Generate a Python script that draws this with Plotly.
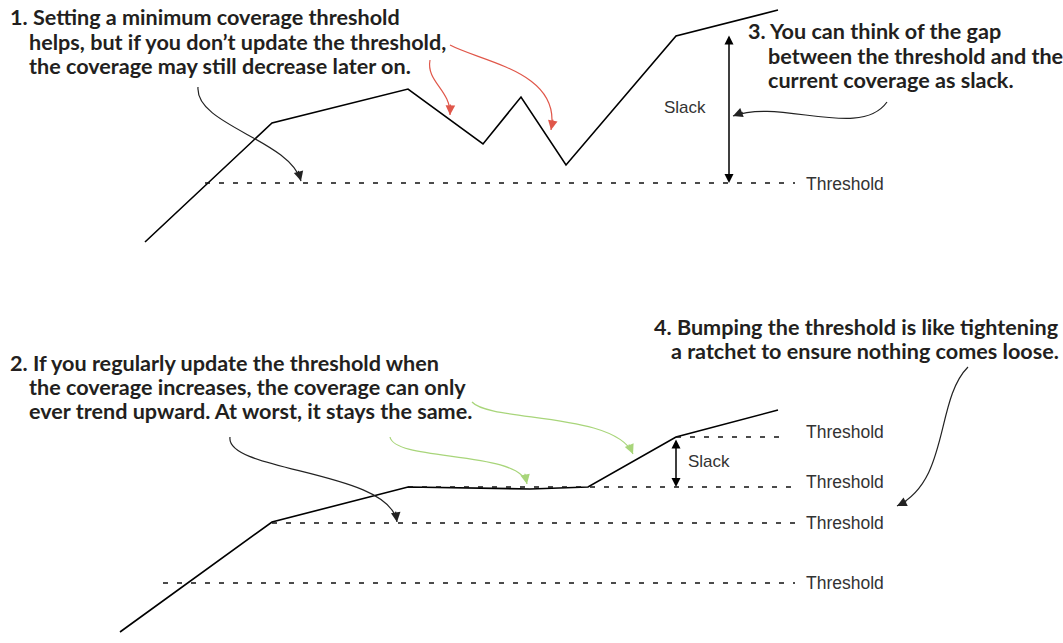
import plotly.graph_objects as go

# diagram drawn in a pixel-like coordinate system (x right, y down)
top_x = [145, 272, 408, 483, 521, 566, 676, 778]
top_y = [242, 123, 89, 144, 97, 165, 36, 10]

bot_x = [120, 272, 408, 530, 588, 676, 778]
bot_y = [632, 522, 487, 489, 487, 437, 410]

# threshold lines: (x start, x end, y)
thr_x0 = [205, 163, 272, 408, 676]
thr_x1 = [795, 795, 795, 795, 785]
thr_y = [183, 583, 523, 487, 437]

thr_label_y = [184, 583, 523, 482, 432]

slack_x = [729, 676]
slack_y0 = [34, 438]
slack_y1 = [183, 487]
slack_lbl_x = [708, 686]
slack_lbl_y = [107, 461]

note1 = ["1. Setting a minimum coverage threshold",
         "helps, but if you don\u2019t update the threshold,",
         "the coverage may still decrease later on."]
note2 = ["2. If you regularly update the threshold when",
         "the coverage increases, the coverage can only",
         "ever trend upward. At worst, it stays the same."]
note3 = ["3. You can think of the gap",
         "between the threshold and the",
         "current coverage as slack."]
note4 = ["4. Bumping the threshold is like tightening",
         "a ratchet to ensure nothing comes loose."]

# curved callouts: start, control 1, control 2, tip, colour
curves = [
    ((198, 87), (195, 125), (290, 140), (301, 181), "#222222"),
    ((430, 60), (426, 82), (451, 90), (450, 115), "#e0574a"),
    ((450, 45), (482, 62), (562, 72), (551, 130), "#e0574a"),
    ((887, 102), (860, 140), (780, 98), (733, 116), "#222222"),
    ((230, 437), (225, 472), (390, 470), (397, 522), "#222222"),
    ((472, 402), (490, 422), (615, 412), (633, 454), "#a8d57a"),
    ((390, 437), (395, 462), (520, 450), (527, 484), "#a8d57a"),
    ((968, 367), (935, 400), (950, 480), (897, 506), "#222222"),
]

TXT = "#231f20"

fig = go.Figure()

fig.add_trace(go.Scatter(x=top_x, y=top_y, mode="lines",
                         line=dict(color="black", width=1.6), hoverinfo="skip"))
fig.add_trace(go.Scatter(x=bot_x, y=bot_y, mode="lines",
                         line=dict(color="black", width=1.6), hoverinfo="skip"))

for x0, x1, y in zip(thr_x0, thr_x1, thr_y):
    fig.add_trace(go.Scatter(x=[x0, x1], y=[y, y], mode="lines",
                             line=dict(color="#111111", width=1.3, dash="5px,9px"),
                             hoverinfo="skip"))

for y in thr_label_y:
    fig.add_annotation(x=804, y=y, text="Threshold", showarrow=False,
                       xanchor="left", yanchor="middle",
                       font=dict(family="Liberation Sans", size=17.5, color="#333333"))

for x, y0, y1, lx, ly in zip(slack_x, slack_y0, slack_y1, slack_lbl_x, slack_lbl_y):
    fig.add_annotation(x=x, y=y1, ax=x, ay=y0, axref="x", ayref="y",
                       showarrow=True, arrowside="end+start", arrowhead=2,
                       arrowsize=1.2, arrowwidth=1.5, arrowcolor="black", text="")
    fig.add_annotation(x=lx, y=ly, text="Slack", showarrow=False,
                       xanchor="right" if x > 700 else "left", yanchor="middle",
                       font=dict(family="Liberation Sans", size=17, color="#333333"))


def add_note(lines, x_first, x_rest, y_first, step, anchor="left"):
    for i, line in enumerate(lines):
        fig.add_annotation(x=x_first if i == 0 else x_rest, y=y_first + i * step,
                           text="<b>" + line + "</b>", showarrow=False,
                           xanchor=anchor, yanchor="middle",
                           font=dict(family="Lato", size=21.6, color=TXT))


add_note(note1, 8, 27, 17, 24.5)
add_note(note2, 8, 27, 363, 24)
add_note(note3, 746, 766, 31, 24.5)
add_note(note4, 1061, 1061, 327, 24, anchor="right")

for p0, c1, c2, p1, col in curves:
    fig.add_shape(type="path", xref="x", yref="y",
                  path=f"M {p0[0]},{p0[1]} C {c1[0]},{c1[1]} {c2[0]},{c2[1]} {p1[0]},{p1[1]}",
                  line=dict(color=col, width=1.2))
    dx, dy = p1[0] - c2[0], p1[1] - c2[1]
    n = (dx * dx + dy * dy) ** 0.5
    fig.add_annotation(x=p1[0], y=p1[1], ax=-dx / n * 12, ay=-dy / n * 12,
                       showarrow=True, arrowhead=2, arrowsize=1.6, arrowwidth=1.2,
                       arrowcolor=col, text="")

fig.update_xaxes(range=[0, 1063], visible=False)
fig.update_yaxes(range=[643, 0], visible=False)
fig.update_layout(width=1063, height=643, margin=dict(l=0, r=0, t=0, b=0),
                  plot_bgcolor="white", paper_bgcolor="white", showlegend=False)

fig.write_html("out.html", config={"displayModeBar": False},
               post_script="document.body.style.margin='0';document.body.style.overflow='hidden';")
